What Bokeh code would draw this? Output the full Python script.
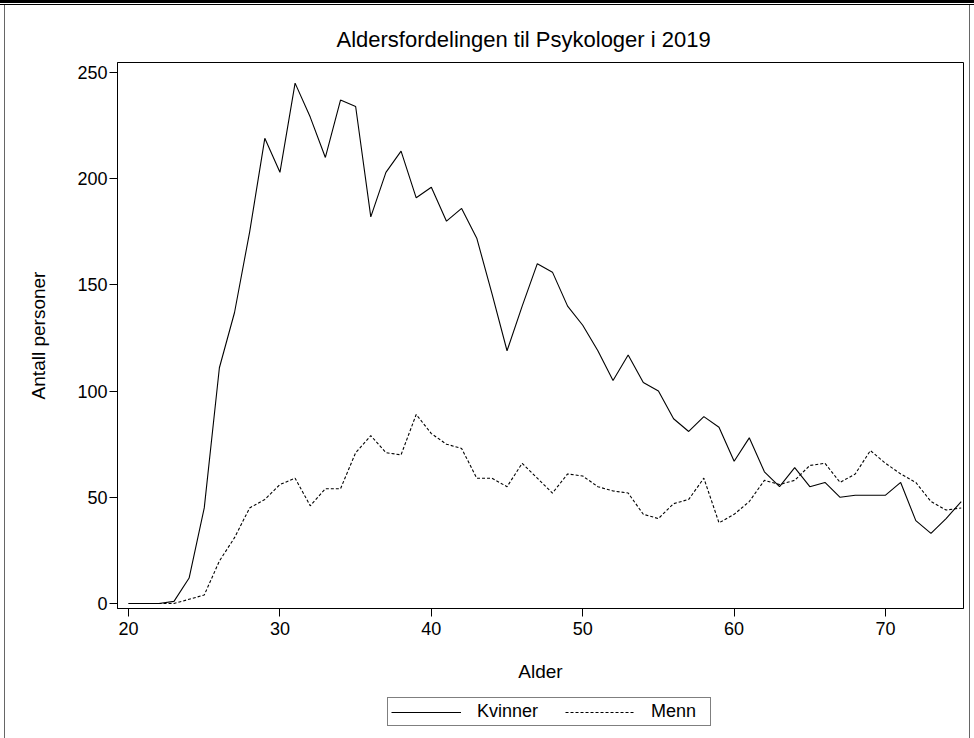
from bokeh.plotting import figure
from bokeh.models import Range1d, Legend, LegendItem, FixedTicker, ColumnDataSource
from bokeh.layouts import column
from bokeh.embed import file_html
from bokeh.resources import INLINE

ages = list(range(20, 76))
kvinner = [0, 0, 0, 1, 12, 45, 111, 137, 175, 219,
           203, 245, 229, 210, 237, 234, 182, 203, 213, 191,
           196, 180, 186, 172, 146, 119, 140, 160, 156, 140,
           131, 119, 105, 117, 104, 100, 87, 81, 88, 83,
           67, 78, 62, 55, 64, 55, 57, 50, 51, 51,
           51, 57, 39, 33, 40, 48]
menn = [0, 0, 0, 0, 2, 4, 20, 31, 45, 49,
        56, 59, 46, 54, 54, 71, 79, 71, 70, 89,
        80, 75, 73, 59, 59, 55, 66, 59, 52, 61,
        60, 55, 53, 52, 42, 40, 47, 49, 59, 38,
        42, 48, 58, 56, 58, 65, 66, 57, 61, 72,
        66, 61, 57, 48, 44, 45]
x_ticks = [20, 30, 40, 50, 60, 70]
y_ticks = [0, 50, 100, 150, 200, 250]

title = "Aldersfordelingen til Psykologer i 2019"
x_label = "Alder"
y_label = "Antall personer"
series_names = ["Kvinner", "Menn"]

src = ColumnDataSource(dict(age=ages, kvinner=kvinner, menn=menn))

FONT = "Liberation Sans"
SOLID = dict(line_color="black", line_width=1.1)
DASHED = dict(line_color="black", line_width=1.1, line_dash="3 2")

p = figure(frame_width=846, frame_height=546,
           x_range=Range1d(19.27, 75.15), y_range=Range1d(-2.35, 254.7),
           output_backend="svg", toolbar_location=None,
           min_border_left=117, min_border_right=11, min_border_top=62, min_border_bottom=82)

p.title.text = title
p.title.align = "left"
p.title.offset = 219
p.title.text_font = FONT
p.title.text_font_size = "22px"
p.title.text_font_style = "normal"
p.title.text_color = "black"
p.title.standoff = 22

p.xgrid.visible = False
p.ygrid.visible = False
p.outline_line_color = "black"
p.outline_line_width = 1
p.outline_line_alpha = 1
p.background_fill_color = "white"
p.border_fill_color = None

for ax in (p.xaxis[0], p.yaxis[0]):
    ax.axis_line_color = "black"
    ax.major_tick_line_color = "black"
    ax.minor_tick_line_color = None
    ax.major_tick_out = 8
    ax.major_tick_in = 0
    ax.major_label_text_font = FONT
    ax.major_label_text_font_size = "18px"
    ax.major_label_text_color = "black"
    ax.axis_label_text_font = FONT
    ax.axis_label_text_font_size = "19px"
    ax.axis_label_text_font_style = "normal"
    ax.axis_label_text_color = "black"

p.xaxis[0].ticker = FixedTicker(ticks=x_ticks)
p.yaxis[0].ticker = FixedTicker(ticks=y_ticks)
p.xaxis[0].axis_label = x_label
p.yaxis[0].axis_label = y_label
p.xaxis[0].axis_label_standoff = 23
p.yaxis[0].axis_label_standoff = 25
p.xaxis[0].major_label_standoff = 5
p.yaxis[0].major_label_standoff = 2

p.line("age", "kvinner", source=src, **SOLID)
p.line("age", "menn", source=src, **DASHED)

# legend strip below the chart (same series, drawn outside its visible range)
p2 = figure(frame_width=974, frame_height=48, x_range=Range1d(0, 1), y_range=Range1d(0, 1),
            output_backend="svg", toolbar_location=None,
            x_axis_location=None, y_axis_location=None,
            min_border_left=0, min_border_right=0, min_border_top=0, min_border_bottom=0)
p2.xgrid.visible = False
p2.ygrid.visible = False
p2.outline_line_color = None
p2.background_fill_color = None
p2.border_fill_color = None
g1 = p2.line("age", "kvinner", source=src, **SOLID)
g2 = p2.line("age", "menn", source=src, **DASHED)

legend = Legend(items=[LegendItem(label=series_names[0], renderers=[g1]),
                       LegendItem(label=series_names[1], renderers=[g2])],
                orientation="horizontal", location=(387, 12))
legend.border_line_color = "black"
legend.border_line_width = 1
legend.label_text_font = FONT
legend.label_text_font_size = "18px"
legend.label_text_color = "black"
legend.label_width = 56
legend.glyph_width = 70
legend.glyph_height = 18
legend.label_standoff = 16
legend.spacing = 27
legend.padding = 3
legend.margin = 0
legend.background_fill_color = "white"
p2.add_layout(legend, "center")

layout = column(p, p2, spacing=0, styles={
    "background-color": "white",
    "box-shadow": ("inset 0 3px 0 0 black, inset 0 4px 0 0 white, inset 0 5px 0 0 black, "
                   "inset 4px 0 0 0 white, inset 5px 0 0 0 #666, "
                   "inset -4px 0 0 0 white, inset -5px 0 0 0 #666"),
})

open("out.html", "w").write(file_html(layout, INLINE))
